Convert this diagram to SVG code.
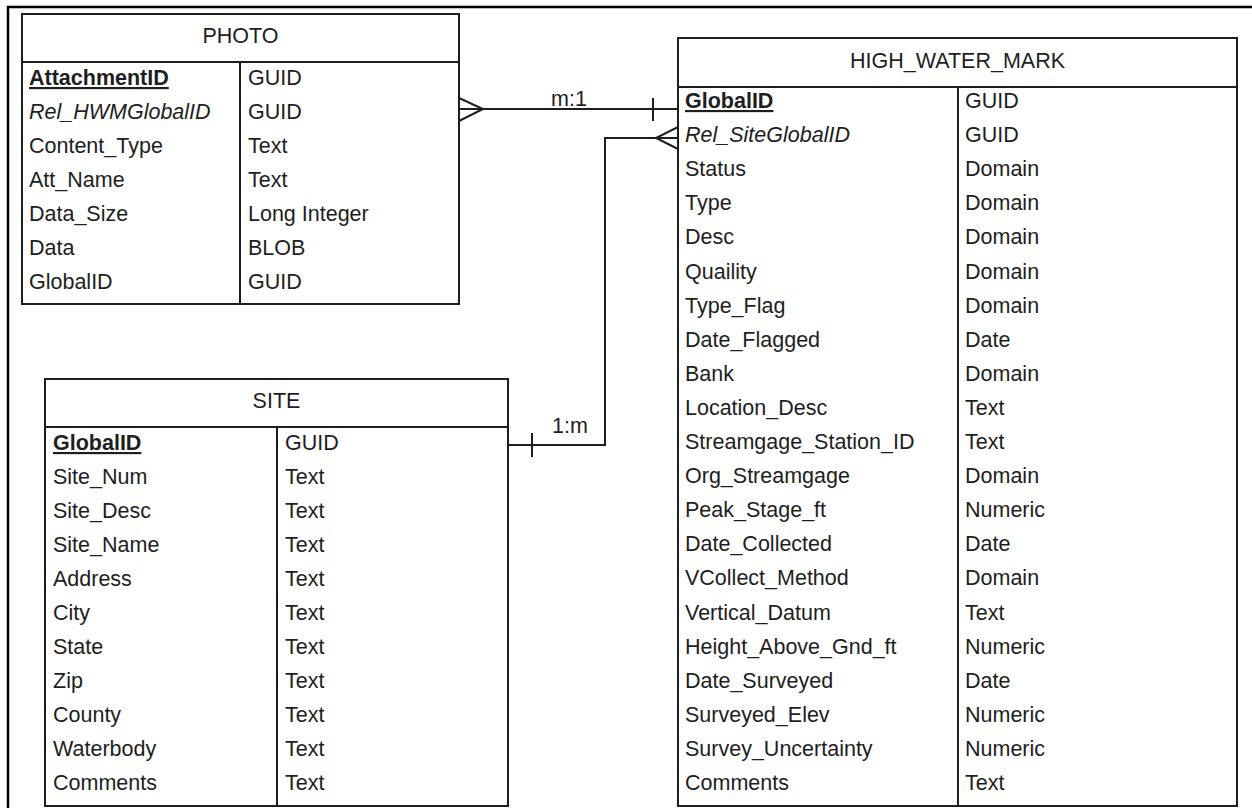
<svg xmlns="http://www.w3.org/2000/svg" width="1252" height="808" viewBox="0 0 1252 808">
<style>
.bg{fill:#ffffff}
.box{fill:#ffffff;stroke:#1e1e1e;stroke-width:2}
.ln{stroke:#1e1e1e;stroke-width:2;fill:none}
.frame{stroke:#000000;stroke-width:2.5;fill:none}
text{font-family:"Liberation Sans",Arial,sans-serif;font-size:21.5px;fill:#1e1e1e}
.h{text-anchor:middle}
.k{font-weight:bold;text-decoration:underline}
.i{font-style:italic}
.lbl{text-anchor:middle}
</style>
<rect class="bg" x="0" y="0" width="1252" height="808"/>
<path class="frame" d="M8 808 V7 H1252"/>

<g id="photo">
<rect class="box" x="22" y="14" width="437" height="290"/>
<line class="ln" x1="22" y1="62" x2="459" y2="62"/>
<line class="ln" x1="240" y1="62" x2="240" y2="304"/>
<text class="h" x="240.5" y="43">PHOTO</text>
<text x="29" y="85" class="k">AttachmentID</text><text x="248" y="85">GUID</text>
<text x="29" y="119" class="i">Rel_HWMGlobalID</text><text x="248" y="119">GUID</text>
<text x="29" y="153">Content_Type</text><text x="248" y="153">Text</text>
<text x="29" y="187">Att_Name</text><text x="248" y="187">Text</text>
<text x="29" y="221">Data_Size</text><text x="248" y="221">Long Integer</text>
<text x="29" y="255">Data</text><text x="248" y="255">BLOB</text>
<text x="29" y="289">GlobalID</text><text x="248" y="289">GUID</text>
</g>

<g id="site">
<rect class="box" x="45" y="379" width="463" height="427"/>
<line class="ln" x1="45" y1="427" x2="508" y2="427"/>
<line class="ln" x1="277" y1="427" x2="277" y2="806"/>
<text class="h" x="276.5" y="408">SITE</text>
<text x="53" y="450" class="k">GlobalID</text><text x="285" y="450">GUID</text>
<text x="53" y="484">Site_Num</text><text x="285" y="484">Text</text>
<text x="53" y="518">Site_Desc</text><text x="285" y="518">Text</text>
<text x="53" y="552">Site_Name</text><text x="285" y="552">Text</text>
<text x="53" y="586">Address</text><text x="285" y="586">Text</text>
<text x="53" y="620">City</text><text x="285" y="620">Text</text>
<text x="53" y="654">State</text><text x="285" y="654">Text</text>
<text x="53" y="688">Zip</text><text x="285" y="688">Text</text>
<text x="53" y="722">County</text><text x="285" y="722">Text</text>
<text x="53" y="756">Waterbody</text><text x="285" y="756">Text</text>
<text x="53" y="790">Comments</text><text x="285" y="790">Text</text>
</g>

<g id="high_water_mark">
<rect class="box" x="678" y="38" width="559" height="768"/>
<line class="ln" x1="678" y1="87" x2="1237" y2="87"/>
<line class="ln" x1="958" y1="87" x2="958" y2="806"/>
<text class="h" x="957.5" y="68">HIGH_WATER_MARK</text>
<text x="685" y="108" class="k">GlobalID</text><text x="965" y="108">GUID</text>
<text x="685" y="142" class="i">Rel_SiteGlobalID</text><text x="965" y="142">GUID</text>
<text x="685" y="176">Status</text><text x="965" y="176">Domain</text>
<text x="685" y="210">Type</text><text x="965" y="210">Domain</text>
<text x="685" y="244">Desc</text><text x="965" y="244">Domain</text>
<text x="685" y="279">Quaility</text><text x="965" y="279">Domain</text>
<text x="685" y="313">Type_Flag</text><text x="965" y="313">Domain</text>
<text x="685" y="347">Date_Flagged</text><text x="965" y="347">Date</text>
<text x="685" y="381">Bank</text><text x="965" y="381">Domain</text>
<text x="685" y="415">Location_Desc</text><text x="965" y="415">Text</text>
<text x="685" y="449">Streamgage_Station_ID</text><text x="965" y="449">Text</text>
<text x="685" y="483">Org_Streamgage</text><text x="965" y="483">Domain</text>
<text x="685" y="517">Peak_Stage_ft</text><text x="965" y="517">Numeric</text>
<text x="685" y="551">Date_Collected</text><text x="965" y="551">Date</text>
<text x="685" y="585">VCollect_Method</text><text x="965" y="585">Domain</text>
<text x="685" y="620">Vertical_Datum</text><text x="965" y="620">Text</text>
<text x="685" y="654">Height_Above_Gnd_ft</text><text x="965" y="654">Numeric</text>
<text x="685" y="688">Date_Surveyed</text><text x="965" y="688">Date</text>
<text x="685" y="722">Surveyed_Elev</text><text x="965" y="722">Numeric</text>
<text x="685" y="756">Survey_Uncertainty</text><text x="965" y="756">Numeric</text>
<text x="685" y="790">Comments</text><text x="965" y="790">Text</text>
</g>

<g id="connectors">
<g id="photo-hwm">
<line class="ln" x1="459" y1="109" x2="678" y2="109"/>
<path class="ln" d="M459 98 L483 109 L459 121"/>
<line class="ln" x1="653" y1="98" x2="653" y2="121"/>
<text class="lbl" x="569" y="106">m:1</text>
</g>
<g id="site-hwm">
<path class="ln" d="M508 445 H605 V138 H678"/>
<path class="ln" d="M678 127 L656 138 L678 149"/>
<line class="ln" x1="532" y1="433" x2="532" y2="457"/>
<text class="lbl" x="570" y="433">1:m</text>
</g>
</g>
</svg>
